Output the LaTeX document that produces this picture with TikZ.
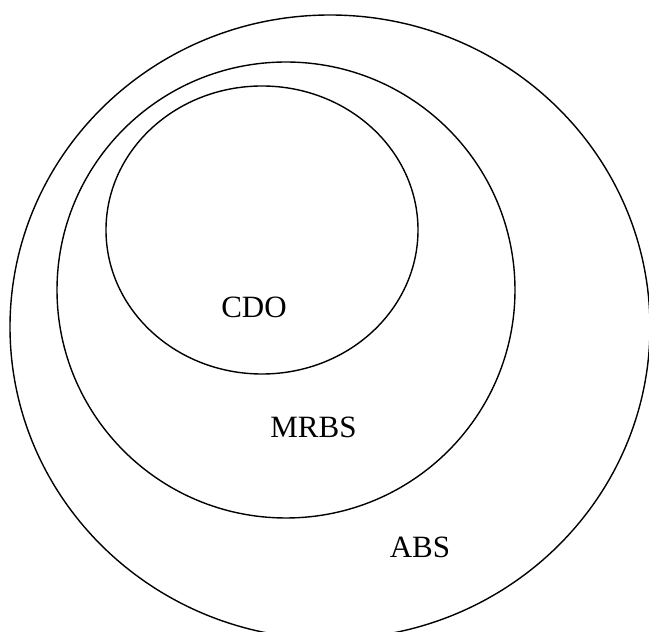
\documentclass[tikz,border=0pt]{standalone}
\usepackage{fontspec}
\setmainfont{Liberation Serif}
\usepackage{tikz}

\begin{document}
\begin{tikzpicture}[x=1pt,y=1pt]
\useasboundingbox (0,0) rectangle (649,632);
\clip (0,0) rectangle (649,632);

\draw[line width=1.4pt] (330,305) ellipse (320 and 312);
\draw[line width=1.4pt] (286,342) ellipse (229 and 228);
\draw[line width=1.4pt] (262,402) ellipse (156 and 144);

\node[font=\fontsize{31}{36}\selectfont] (cdo) at (254,325) {CDO};
\node[font=\fontsize{31}{36}\selectfont] (mrbs) at (313.5,205) {MRBS};
\node[font=\fontsize{31}{36}\selectfont] (abs) at (420,85) {ABS};
\end{tikzpicture}
\end{document}
